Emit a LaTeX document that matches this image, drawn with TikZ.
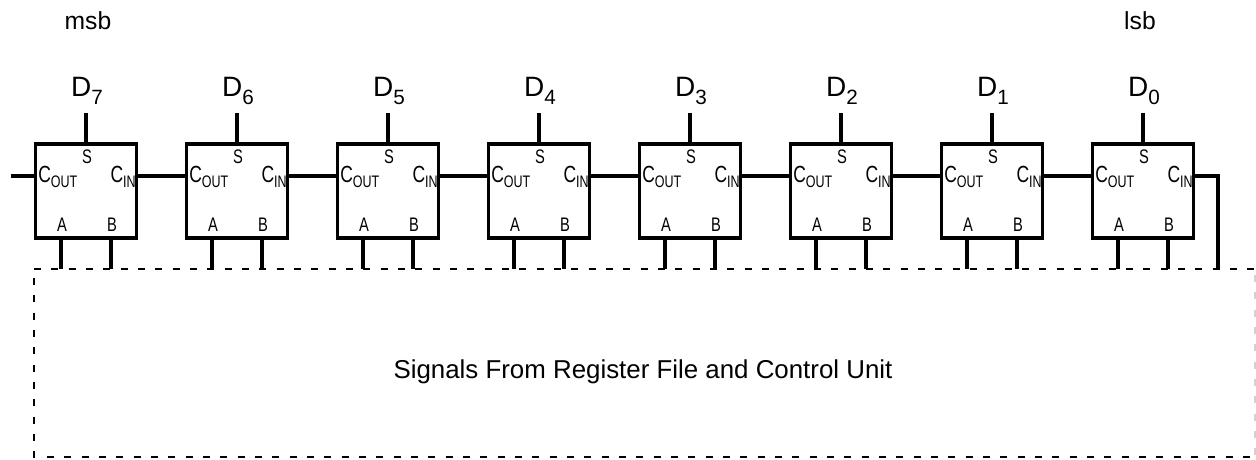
\documentclass[tikz,border=0pt]{standalone}
\usepackage{fontspec}
\usepackage{graphicx}
\setmainfont{Liberation Sans}
\newcommand{\fs}[1]{\fontsize{#1pt}{#1pt}\selectfont}
\newcommand{\nar}[1]{\scalebox{0.75}[1]{#1}}
\definecolor{edgegray}{gray}{0.82}
\tikzset{
  x=0.75pt,y=-0.75pt,
  wire/.style={line width=3pt,line cap=butt},
  cell/.style={draw,line width=2.8pt,minimum width=75.8pt,minimum height=71pt,inner sep=0pt,outer sep=0pt},
  lab/.style={font=\fs{14.7},inner sep=0pt},
  big/.style={inner sep=0pt},
  dashtop/.style={line width=1.5pt,dash pattern=on 5.2pt off 7.8pt},
  dashside/.style={line width=1.7pt,dash pattern=on 5.2pt off 7.8pt}
}
\begin{document}
\begin{tikzpicture}
\useasboundingbox (0,0) rectangle (1256,460);
\node[big,font=\fs{18.5}] (msb) at (88,21) {msb};
\node[big,font=\fs{18.5}] (lsb) at (1140,21) {lsb};
\draw[dashtop] (34,269) -- (1256,269);
\draw[dashside,dash phase=6.2pt] (34,269) -- (34,458);
\draw[dashside] (47,457) -- (1256,457);
\draw[line width=1.2pt,edgegray,dash pattern=on 5.2pt off 7.8pt] (1255,275) -- (1255,455);
\foreach \i/\d in {0/7,1/6,2/5,3/4,4/3,5/2,6/1,7/0}{
  \pgfmathsetmacro{\cx}{86+151*\i}
  \node[cell] (c\i) at (\cx,191) {};
  \node[big,font=\fs{21}] (d\i) at (\cx+1,91) {D\raisebox{-6pt}{\fs{15.5}\d}};
  \coordinate (dt\i) at (\cx,113);
  \draw[wire] (dt\i) -- (c\i.north);
  \node[lab] (s\i) at (\cx+1,156.5) {\nar{S}};
  \node[lab,anchor=west] (co\i) at (\cx-48,177) {\nar{\fs{17.5}C\raisebox{-4pt}{\fs{12.5}OUT}}};
  \node[lab,anchor=east] (ci\i) at (\cx+50,177) {\nar{\fs{17.5}C\raisebox{-4pt}{\fs{12.5}IN}}};
  \node[lab] (a\i) at (\cx-24,225) {\nar{A}};
  \node[lab] (b\i) at (\cx+26,225) {\nar{B}};
  \coordinate (pa\i) at (\cx-25,238);
  \coordinate (pb\i) at (\cx+25,238);
  \coordinate (ea\i) at (\cx-25,269);
  \coordinate (eb\i) at (\cx+25,269);
  \draw[wire] (pa\i) -- (ea\i);
  \draw[wire] (pb\i) -- (eb\i);
}
\coordinate (cin) at (11,175.7);
\draw[wire] (cin) -- (c0.west|-cin);
\foreach \i/\j in {0/1,1/2,2/3,3/4,4/5,5/6,6/7}{
  \draw[wire] (c\i.east|-cin) -- (c\j.west|-cin);
}
\coordinate (turn) at (1218,175.7);
\coordinate (drop) at (1218,269);
\draw[wire,line join=miter] (c7.east|-cin) -- (turn) -- (drop);
\node[big,font=\fs{19.4}] (sig) at (643,372) {Signals From Register File and Control Unit};
\end{tikzpicture}
\end{document}
